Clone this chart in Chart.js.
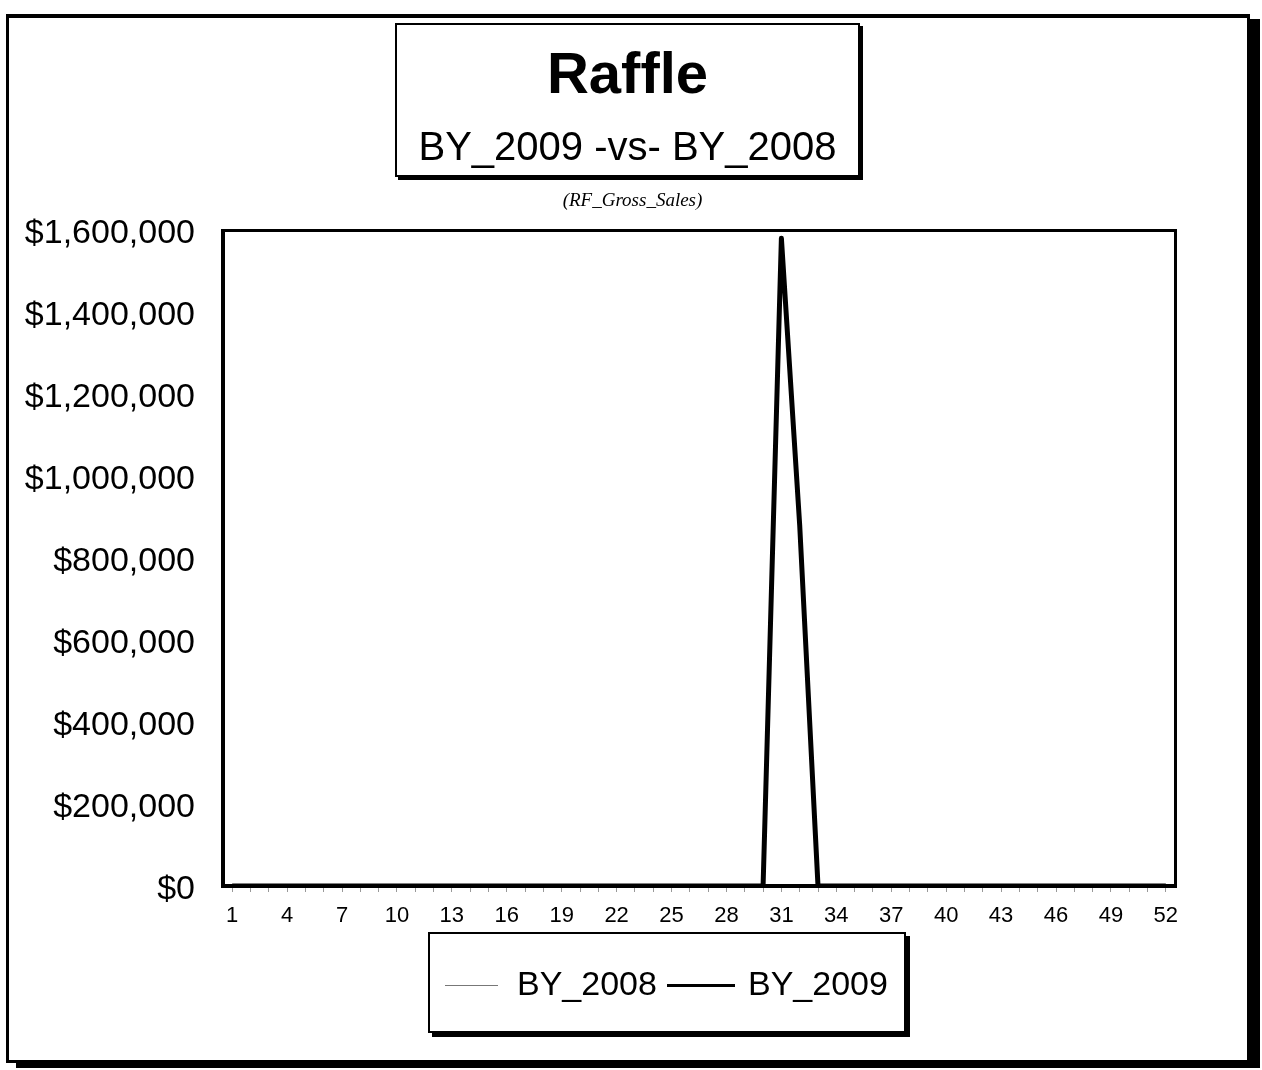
<!DOCTYPE html>
<html>
<head>
<meta charset="utf-8">
<script src="https://cdn.jsdelivr.net/npm/chart.js@4.4.1/dist/chart.umd.min.js"></script>
<style>
  html, body { margin: 0; padding: 0; background: #fff; }
  #wrap { position: absolute; left: 0; top: 0; width: 1262px; height: 1070px; }
  .abs { position: absolute; font-family: "Liberation Sans", Arial, sans-serif; color: #000; white-space: nowrap; }
  #frame { position: absolute; left: 6px; top: 14px; width: 1244px; height: 1049px; box-sizing: border-box;
           border-left: 3px solid #000; border-top: 4px solid #000; border-right: 3px solid #000; border-bottom: 3px solid #000;
           box-shadow: 10px 5px 0 #000; pointer-events: none; }
  #titlebox { position: absolute; left: 395px; top: 23px; width: 465px; height: 154px; box-sizing: border-box;
              border: 2px solid #000; background: #fff; box-shadow: 3px 3px 0 #000; }
  #legendbox { position: absolute; left: 428px; top: 932px; width: 478px; height: 101px; box-sizing: border-box;
               border: 2px solid #000; background: #fff; box-shadow: 4px 4px 0 #000; }
</style>
</head>
<body>
<div id="wrap">
  <canvas id="c" width="1262" height="1070"></canvas>
</div>
<div id="frame"></div>
<div id="titlebox"></div>
<div class="abs" id="t1" style="left:395px;width:465px;text-align:center;top:44px;font-size:58px;line-height:58px;font-weight:bold;">Raffle</div>
<div class="abs" id="t2" style="left:395px;width:465px;text-align:center;top:126px;font-size:40px;line-height:40px;">BY_2009 -vs- BY_2008</div>
<div class="abs" id="t3" style="left:395px;width:475px;text-align:center;top:190px;font-size:19px;line-height:19px;font-family:'Liberation Serif','Times New Roman',serif;font-style:italic;">(RF_Gross_Sales)</div>
<div id="legendbox"></div>
<div id="legend"></div>
<script>
// ---- data ----
const weeks = ['1','2','3','4','5','6','7','8','9','10','11','12','13','14','15','16','17','18','19','20',
               '21','22','23','24','25','26','27','28','29','30','31','32','33','34','35','36','37','38','39','40',
               '41','42','43','44','45','46','47','48','49','50','51','52'];
const seriesNames = ['BY_2008', 'BY_2009'];
const by2008 = [0,0,0,0,0,0,0,0,0,0, 0,0,0,0,0,0,0,0,0,0, 0,0,0,0,0,0,0,0,0,0, 0,0,0,0,0,0,0,0,0,0, 0,0,0,0,0,0,0,0,0,0, 0,0];
const by2009 = [0,0,0,0,0,0,0,0,0,0, 0,0,0,0,0,0,0,0,0,0, 0,0,0,0,0,0,0,0,0,0, 1580000,880000,0,0,0,0,0,0,0,0, 0,0,0,0,0,0,0,0,0,0, 0,0];
const yTicks = [0, 200000, 400000, 600000, 800000, 1000000, 1200000, 1400000, 1600000];

// ---- legend (HTML) ----
const legendItems = [
  { name: seriesNames[0], lineLeft: 445, lineW: 53, lineH: 1, color: '#777', textLeft: 517 },
  { name: seriesNames[1], lineLeft: 667, lineW: 68, lineH: 3, color: '#000', textLeft: 748 }
];
const lg = document.getElementById('legend');
legendItems.forEach(it => {
  const ln = document.createElement('div');
  ln.style.cssText = `position:absolute;left:${it.lineLeft}px;top:${985 - Math.floor(it.lineH/2)}px;width:${it.lineW}px;height:${it.lineH}px;background:${it.color};`;
  lg.appendChild(ln);
  const tx = document.createElement('div');
  tx.className = 'abs';
  tx.style.cssText = `left:${it.textLeft}px;top:966px;font-size:34px;line-height:34px;`;
  tx.textContent = it.name;
  lg.appendChild(tx);
});

// ---- plot frame plugin ----
const framePlugin = {
  id: 'frame',
  afterDatasetsDraw(chart) {
    const a = chart.chartArea, ctx = chart.ctx;
    ctx.save();
    ctx.fillStyle = '#000';
    ctx.fillRect(a.left - 2, a.top - 1, 4, a.bottom - a.top + 3);   // left
    ctx.fillRect(a.left - 2, a.top - 1, a.right - a.left + 4, 3);   // top
    ctx.fillRect(a.right - 1, a.top - 1, 3, a.bottom - a.top + 3);  // right
    ctx.fillRect(a.left - 2, a.bottom - 2, a.right - a.left + 4, 4); // bottom
    ctx.restore();
  }
};

new Chart(document.getElementById('c'), {
  type: 'line',
  data: {
    labels: weeks,
    datasets: [
      { label: seriesNames[0], data: by2008, borderColor: '#777', borderWidth: 1, pointRadius: 0, tension: 0, fill: false },
      { label: seriesNames[1], data: by2009, borderColor: '#000', borderWidth: 5, pointRadius: 0, tension: 0, fill: false, borderJoinStyle: 'round' }
    ]
  },
  options: {
    responsive: false,
    animation: false,
    events: [],
    layout: { padding: { left: 0, top: 230, right: 87, bottom: 144 } },
    plugins: { legend: { display: false }, title: { display: false }, tooltip: { enabled: false } },
    scales: {
      x: {
        type: 'category',
        offset: true,
        border: { display: false },
        grid: { display: true, drawOnChartArea: false, drawTicks: true, tickLength: 6, color: '#999', lineWidth: 1 },
        ticks: {
          autoSkip: false, maxRotation: 0, minRotation: 0, padding: 11, color: '#000',
          font: { family: "'Liberation Sans', Arial, sans-serif", size: 22 },
          callback: function(v, i) { return i % 3 === 0 ? weeks[i] : ''; }
        },
        afterFit: function(s) { s.height = 40; }
      },
      y: {
        min: yTicks[0], max: yTicks[yTicks.length - 1],
        border: { display: false },
        grid: { display: false, drawTicks: false },
        afterBuildTicks: function(s) { s.ticks = yTicks.map(v => ({ value: v })); },
        ticks: {
          padding: 28, color: '#000', labelOffset: 4,
          font: { family: "'Liberation Sans', Arial, sans-serif", size: 34 },
          callback: function(v) { return '$' + Number(v).toLocaleString('en-US'); }
        },
        afterFit: function(s) { s.width = 223; }
      }
    }
  },
  plugins: [framePlugin]
});
</script>
</body>
</html>
